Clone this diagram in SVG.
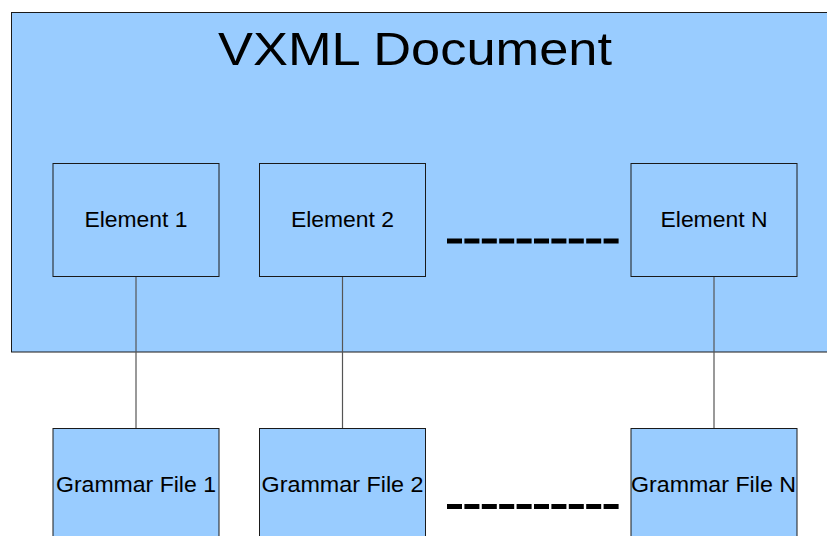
<svg xmlns="http://www.w3.org/2000/svg" width="827" height="536" viewBox="0 0 827 536">
<style>
.box{fill:#99ccff;stroke:#1a1a1a;stroke-width:1}
.lbl{font-family:"Liberation Sans",Arial,sans-serif;font-size:22px;fill:#000;text-anchor:middle}
.conn{stroke:#555;stroke-width:1.2;fill:none}
.dots{stroke:#000;stroke-width:5;stroke-dasharray:15 2.4;fill:none}
</style>
<rect width="827" height="536" fill="#fff"/>
<g id="vxml-document">
<rect class="box" x="11.5" y="12.5" width="830" height="339.5"/>
<text x="415" y="65" font-family="'Liberation Sans',Arial,sans-serif" font-size="46" text-anchor="middle" textLength="394" lengthAdjust="spacingAndGlyphs">VXML Document</text>
</g>
<g id="connectors">
<line class="conn" x1="136" y1="277" x2="136" y2="428"/>
<line class="conn" x1="342.5" y1="277" x2="342.5" y2="428"/>
<line class="conn" x1="714" y1="277" x2="714" y2="428"/>
<line class="dots" x1="447" y1="241" x2="619" y2="241"/>
<line class="dots" x1="447" y1="506.5" x2="619" y2="506.5"/>
</g>
<g id="element-1">
<rect class="box" x="53" y="163.5" width="166" height="113"/>
<text class="lbl" x="136" y="227" textLength="103" lengthAdjust="spacingAndGlyphs">Element 1</text>
</g>
<g id="element-2">
<rect class="box" x="259.5" y="163.5" width="166" height="113"/>
<text class="lbl" x="342.5" y="227" textLength="103" lengthAdjust="spacingAndGlyphs">Element 2</text>
</g>
<g id="element-n">
<rect class="box" x="631" y="163.5" width="166" height="113"/>
<text class="lbl" x="714" y="227" textLength="107" lengthAdjust="spacingAndGlyphs">Element N</text>
</g>
<g id="grammar-file-1">
<rect class="box" x="53" y="428.5" width="166" height="120"/>
<text class="lbl" x="136" y="492" textLength="160" lengthAdjust="spacingAndGlyphs">Grammar File 1</text>
</g>
<g id="grammar-file-2">
<rect class="box" x="259.5" y="428.5" width="166" height="120"/>
<text class="lbl" x="342.5" y="492" textLength="162" lengthAdjust="spacingAndGlyphs">Grammar File 2</text>
</g>
<g id="grammar-file-n">
<rect class="box" x="631" y="428.5" width="166" height="120"/>
<text class="lbl" x="713.5" y="492" textLength="165" lengthAdjust="spacingAndGlyphs">Grammar File N</text>
</g>
</svg>
